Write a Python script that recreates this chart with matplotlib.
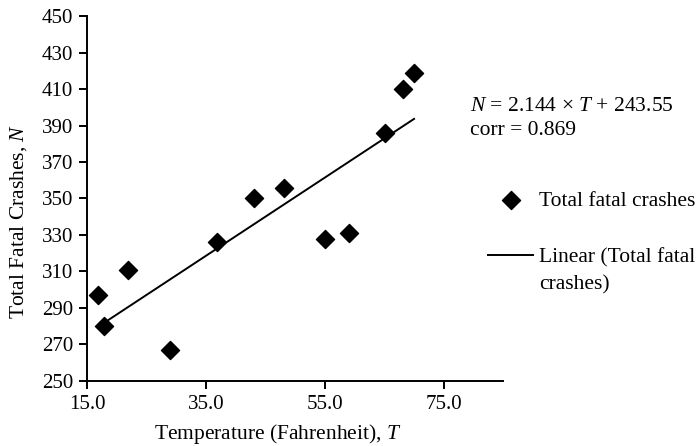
import matplotlib
matplotlib.use("Agg")
import matplotlib.pyplot as plt
import numpy as np

### Data

temperature = [16.9, 17.9, 21.9, 29.0, 36.9, 43.0, 48.1, 55.0, 59.0, 65.1, 68.2, 70.0]
fatal_crashes = [297, 280, 311, 267, 326, 350, 356, 328, 331, 386, 410, 419]

slope = 2.144
intercept = 243.55
corr = 0.869
trend_range = [17.9, 70.0]

x_ticks = [15.0, 35.0, 55.0, 75.0]
y_ticks = list(range(250, 451, 20))

### Fonts

plt.rcParams['font.family'] = ['Liberation Serif', 'DejaVu Serif']
plt.rcParams['mathtext.fontset'] = 'custom'
plt.rcParams['mathtext.rm'] = 'Liberation Serif'
plt.rcParams['mathtext.it'] = 'Liberation Serif:italic'

fs = 15.5

### Plot

fig = plt.figure(figsize=(6.97, 4.46), dpi=100)
ax = fig.add_axes([0.125, 0.146, 0.597, 0.818])

ax.scatter(temperature, fatal_crashes, marker='D', s=85, color='black',
           label='Total fatal crashes', zorder=3)

t_line = np.array(trend_range)
ax.plot(t_line, slope * t_line + intercept, color='black', lw=1.4,
        label='Linear (Total fatal')

ax.set_xlim(15, 85)
ax.set_ylim(250, 450)
ax.set_xticks(x_ticks)
ax.set_xticklabels(['%.1f' % t for t in x_ticks])
ax.set_yticks(y_ticks)
ax.tick_params(labelsize=15, direction='out', length=6, width=1.4, pad=4)
for s in ['top', 'right']:
    ax.spines[s].set_visible(False)
for s in ['left', 'bottom']:
    ax.spines[s].set_linewidth(1.4)

ax.set_xlabel('Temperature (Fahrenheit), $T$', fontsize=fs, va='baseline')
ax.set_ylabel('Total Fatal Crashes, $N$', fontsize=fs)
ax.xaxis.set_label_coords(0.457, -0.158)
ax.yaxis.set_label_coords(-0.139, 0.437)

fig.text(0.674, 0.751, '$N$ = %.3f × $T$ + %.2f' % (slope, intercept), fontsize=fs, va='baseline')
fig.text(0.674, 0.697, 'corr = %.3f' % corr, fontsize=fs, va='baseline')

leg = ax.legend(loc='upper left', bbox_to_anchor=(0.700, 0.573), bbox_transform=fig.transFigure,
                frameon=False, fontsize=fs, handlelength=2.1, handletextpad=0.28,
                labelspacing=1.72, borderpad=0, borderaxespad=0)

# second line of the trendline label, placed under the first one
fig.canvas.draw()
bb = leg.texts[1].get_window_extent()
fig.text(bb.x0 / fig.bbox.width, (bb.y0 - 27) / fig.bbox.height, 'crashes)',
         fontsize=fs, va='bottom', ha='left')

fig.savefig('out.png', dpi=100)
